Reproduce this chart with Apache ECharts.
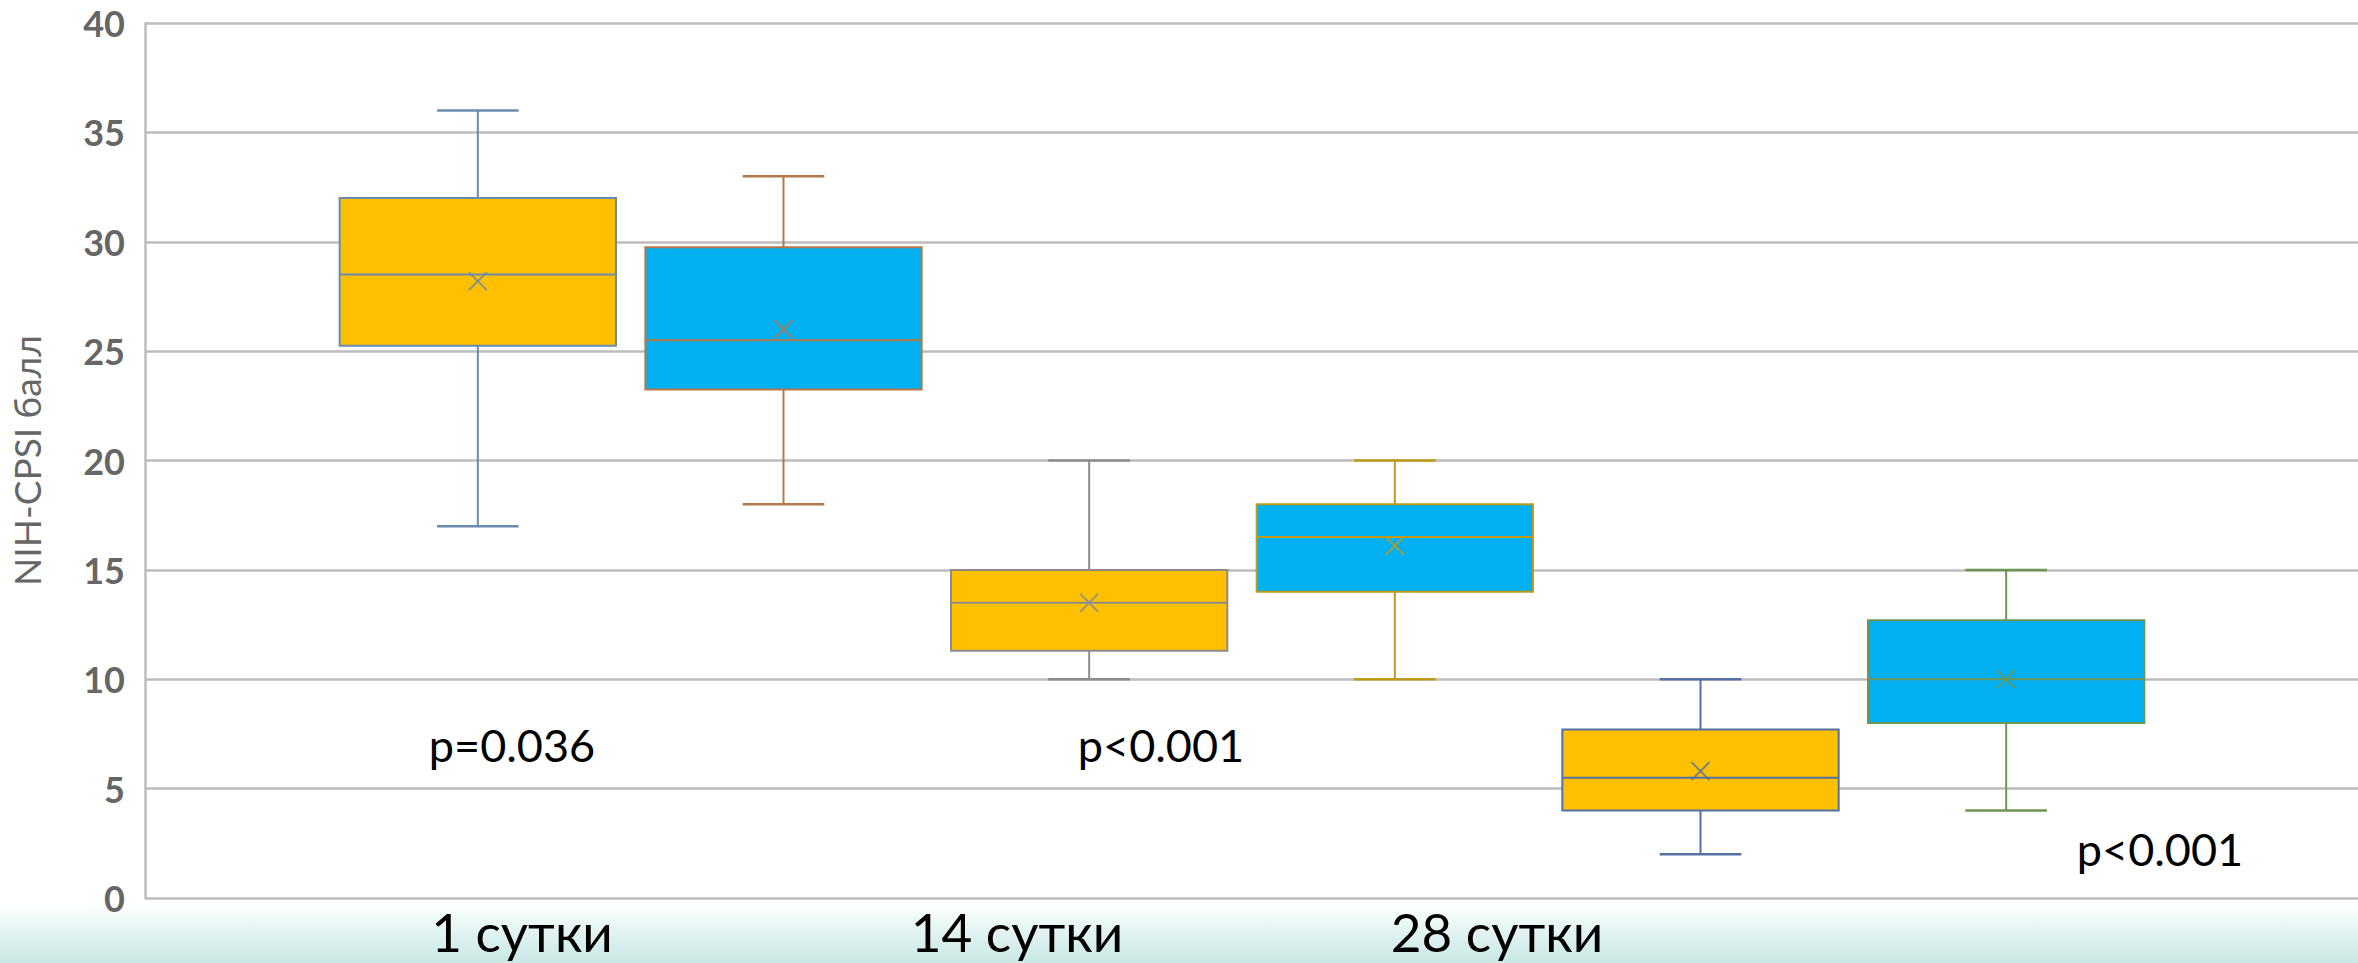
<!DOCTYPE html>
<html>
<head>
<meta charset="utf-8">
<script src="https://cdn.jsdelivr.net/npm/echarts@6/dist/echarts.min.js"></script>
<style>
html,body{margin:0;padding:0;background:#ffffff;}
#chart{width:2358px;height:963px;}
</style>
</head>
<body>
<div id="chart"></div>
<script>
// ---------- data ----------
const categories = ['1 сутки', '14 сутки', '28 сутки'];
const groupNames = ['Группа 1', 'Группа 2'];

const g1Min    = [17,    10,   2];
const g1Q1     = [25.25, 11.3, 4];
const g1Median = [28.5,  13.5, 5.5];
const g1Q3     = [32,    15,   7.7];
const g1Max    = [36,    20,   10];
const g1Mean   = [28.2,  13.5, 5.8];

const g2Min    = [18,    10,   4];
const g2Q1     = [23.25, 14,   8];
const g2Median = [25.5,  16.5, 10];
const g2Q3     = [29.75, 18,   12.7];
const g2Max    = [33,    20,   15];
const g2Mean   = [26,    16.1, 10];

const yMin = 0, yMax = 40, yInterval = 5;
const yAxisTitle = 'NIH-CPSI балл';
const pValueLabels = ['p=0.036', 'p<0.001', 'p<0.001'];

// ---------- styles ----------
const FILL1 = '#FFC000', FILL2 = '#00B0F0';
const stroke1 = ['#6A8AAE', '#8C8C8C', '#5470A4'];
const stroke2 = ['#B5784A', '#BD9A1A', '#6F9553'];
const BOX_FRAC = 0.452, CAP_FRAC = 0.1335, MEAN_SIZE = 18;
const FONT = 'Lato, "Open Sans", "DejaVu Sans", sans-serif';

function buildData(mn, q1, md, q3, mx, mean) {
  return categories.map((c, i) => [i, mn[i], q1[i], md[i], q3[i], mx[i], mean[i]]);
}

function boxRenderer(offsetFrac, fill, strokes) {
  return function (params, api) {
    const idx = api.value(0);
    const band = api.size([1, 0])[0];
    const cx = api.coord([idx, 0])[0] + offsetFrac * band;
    const py = k => api.coord([idx, api.value(k)])[1];
    const yLo = py(1), yQ1 = py(2), yMed = py(3), yQ3 = py(4), yHi = py(5), yMean = py(6);
    const hw = band * BOX_FRAC / 2, cw = band * CAP_FRAC / 2, m = MEAN_SIZE / 2;
    const stroke = strokes[params.dataIndex];
    const line = (x1, y1, x2, y2, w, op) => ({
      type: 'line', shape: { x1, y1, x2, y2 },
      style: { stroke, lineWidth: w || 2, opacity: op == null ? 1 : op }
    });
    return {
      type: 'group',
      children: [
        line(cx, yLo, cx, yQ1),
        line(cx, yQ3, cx, yHi),
        line(cx - cw, yLo, cx + cw, yLo, 2.5),
        line(cx - cw, yHi, cx + cw, yHi, 2.5),
        { type: 'rect', shape: { x: cx - hw, y: yQ3, width: 2 * hw, height: yQ1 - yQ3 },
          style: { fill, stroke, lineWidth: 2 } },
        line(cx - hw, yMed, cx + hw, yMed),
        line(cx - m, yMean - m, cx + m, yMean + m, 2, 0.8),
        line(cx - m, yMean + m, cx + m, yMean - m, 2, 0.8)
      ]
    };
  };
}

const chart = echarts.init(document.getElementById('chart'), null, { renderer: 'svg' });

const option = {
  animation: false,
  backgroundColor: '#ffffff',
  grid: [
    { left: 132, right: -4, top: 23, bottom: 65 },
    { left: 325, right: 199, top: 23, bottom: 65 }
  ],
  xAxis: [
    { type: 'category', gridIndex: 0, data: categories, show: false },
    { type: 'category', gridIndex: 1, data: categories, show: false }
  ],
  yAxis: [
    {
      type: 'value', gridIndex: 0, min: yMin, max: yMax, interval: yInterval,
      name: yAxisTitle, nameLocation: 'middle', nameRotate: 90, nameGap: 100,
      nameTextStyle: { fontFamily: FONT, fontSize: 37, color: '#666666' },
      axisLine: { show: true, lineStyle: { color: '#BDBDBD', width: 2.5 } },
      axisTick: { show: false },
      axisLabel: { fontFamily: FONT, fontSize: 36, fontWeight: 'bold', color: '#666666', margin: 20 },
      splitLine: { show: true, lineStyle: { color: '#BDBDBD', width: 2.5 } }
    },
    { type: 'value', gridIndex: 1, min: yMin, max: yMax, interval: yInterval, show: false,
      splitLine: { show: false } }
  ],
  series: [
    {
      name: groupNames[0], type: 'custom', xAxisIndex: 1, yAxisIndex: 1,
      renderItem: boxRenderer(-0.25, FILL1, stroke1),
      encode: { x: 0, y: [1, 2, 3, 4, 5, 6] },
      data: buildData(g1Min, g1Q1, g1Median, g1Q3, g1Max, g1Mean)
    },
    {
      name: groupNames[1], type: 'custom', xAxisIndex: 1, yAxisIndex: 1,
      renderItem: boxRenderer(0.25, FILL2, stroke2),
      encode: { x: 0, y: [1, 2, 3, 4, 5, 6] },
      data: buildData(g2Min, g2Q1, g2Median, g2Q3, g2Max, g2Mean)
    }
  ],
  graphic: [
    {
      type: 'rect', z: -10, silent: true,
      shape: { x: 0, y: 905, width: 2358, height: 58 },
      style: {
        fill: new echarts.graphic.LinearGradient(0, 0, 0, 1, [
          { offset: 0, color: '#ffffff' },
          { offset: 0.45, color: '#e2f3f2' },
          { offset: 1, color: '#c9e7e5' }
        ])
      }
    },
    { type: 'text', x: 512, y: 745, style: { text: pValueLabels[0], font: '45px ' + FONT, fill: '#000', align: 'center', verticalAlign: 'middle' } },
    { type: 'text', x: 1161, y: 745, style: { text: pValueLabels[1], font: '45px ' + FONT, fill: '#000', align: 'center', verticalAlign: 'middle' } },
    { type: 'text', x: 2160, y: 849, style: { text: pValueLabels[2], font: '45px ' + FONT, fill: '#000', align: 'center', verticalAlign: 'middle' } },
    { type: 'text', x: 522, y: 931, style: { text: categories[0], font: '53px ' + FONT, fill: '#000', align: 'center', verticalAlign: 'middle' } },
    { type: 'text', x: 1017, y: 931, style: { text: categories[1], font: '53px ' + FONT, fill: '#000', align: 'center', verticalAlign: 'middle' } },
    { type: 'text', x: 1497, y: 931, style: { text: categories[2], font: '53px ' + FONT, fill: '#000', align: 'center', verticalAlign: 'middle' } }
  ]
};

chart.setOption(option);
</script>
</body>
</html>
